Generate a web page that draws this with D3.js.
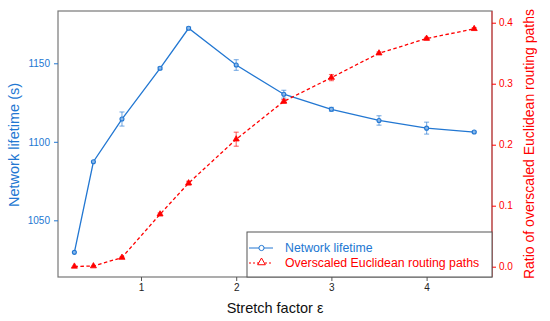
<!DOCTYPE html>
<html>
<head>
<meta charset="utf-8">
<script src="https://cdn.jsdelivr.net/npm/d3@7"></script>
<style>
  body { margin: 0; background: #fff; }
  svg { display: block; font-family: "Liberation Sans", Arial, sans-serif; }
</style>
</head>
<body>
<div id="chart"></div>
<script>
// stretch factor values
const stretch = [0.3, 0.5, 0.8, 1.2, 1.5, 2, 2.5, 3, 3.5, 4, 4.5];
// network lifetime (s) and its error
const lifetime = [1029.6, 1087.3, 1114.5, 1146.8, 1172.3, 1148.9, 1130.3, 1120.7, 1113.6, 1108.7, 1106.2];
const lifetimeErr = [0, 0, 4.5, 0.8, 0.8, 3.4, 2.5, 1.2, 3, 3.8, 0.5];
// ratio of overscaled euclidean routing paths and its error
const ratio = [0.0005, 0.001, 0.015, 0.086, 0.137, 0.209, 0.271, 0.310, 0.350, 0.374, 0.390];
const ratioErr = [0, 0, 0.001, 0.002, 0.003, 0.0115, 0.003, 0.005, 0.002, 0.002, 0.002];

const xTicks = [1, 2, 3, 4];
const leftTicks = [1050, 1100, 1150];
const rightTicks = [0, 0.1, 0.2, 0.3, 0.4];

const blue = "#2277d2";
const red = "#ff0000";

const width = 550, height = 321;
const margin = { top: 11, right: 58, bottom: 44, left: 58 };
const w = width - margin.left - margin.right;
const h = height - margin.top - margin.bottom;

const svg = d3.select("#chart").append("svg")
  .attr("width", width)
  .attr("height", height);

const g = svg.append("g").attr("transform", `translate(${margin.left},${margin.top})`);

const x = d3.scaleLinear().domain([0.128, 4.687]).range([0, w]);
const yL = d3.scaleLinear().domain([1013.9, 1183.3]).range([h, 0]);
const yR = d3.scaleLinear().domain([-0.0169, 0.4192]).range([h, 0]);

// frame
g.append("rect")
  .attr("width", w).attr("height", h)
  .attr("fill", "none").attr("stroke", "#777").attr("stroke-width", 1.2);

// bottom axis
const xAxis = g.append("g")
  .attr("transform", `translate(0,${h})`)
  .call(d3.axisBottom(x).tickValues(xTicks).tickSize(4).tickPadding(3).tickFormat(d3.format("d")));
xAxis.select(".domain").remove();
xAxis.selectAll("line").attr("stroke", "#555");
xAxis.selectAll("text").attr("fill", "#222").style("font-size", "10px");

// left axis
const lAxis = g.append("g")
  .call(d3.axisLeft(yL).tickValues(leftTicks).tickSize(4).tickPadding(4).tickFormat(d3.format("d")));
lAxis.select(".domain").remove();
lAxis.selectAll("line").attr("stroke", blue);
lAxis.selectAll("text").attr("fill", blue).style("font-size", "10px");

// right axis
const rAxis = g.append("g")
  .attr("transform", `translate(${w},0)`)
  .call(d3.axisRight(yR).tickValues(rightTicks).tickSize(4).tickPadding(3).tickFormat(d3.format(".1f")));
rAxis.select(".domain").attr("stroke", red).attr("stroke-opacity", 0.7).attr("d", `M0,0V${h}`);
rAxis.selectAll("line").attr("stroke", red);
rAxis.selectAll("text").attr("fill", red).style("font-size", "10px");

// axis titles
svg.append("text")
  .attr("transform", `translate(19,${margin.top + h / 2 + 1}) rotate(-90)`)
  .attr("text-anchor", "middle")
  .attr("fill", blue)
  .style("font-size", "14.5px")
  .text("Network lifetime (s)");

svg.append("text")
  .attr("transform", `translate(534,${margin.top + h / 2}) rotate(-90)`)
  .attr("text-anchor", "middle")
  .attr("fill", red)
  .style("font-size", "14px")
  .text("Ratio of overscaled Euclidean routing paths");

svg.append("text")
  .attr("x", margin.left + w / 2)
  .attr("y", 313)
  .attr("text-anchor", "middle")
  .attr("fill", "#111")
  .style("font-size", "14.5px")
  .text("Stretch factor ε");

const lifeData = stretch.map((s, i) => ({ x: s, y: lifetime[i], e: lifetimeErr[i] }));
const ratioData = stretch.map((s, i) => ({ x: s, y: ratio[i], e: ratioErr[i] }));

function errorBars(data, yScale, color) {
  const eb = g.append("g").attr("stroke", color).attr("stroke-opacity", 0.55).attr("stroke-width", 1.2);
  data.filter(d => d.e > 0).forEach(d => {
    const cx = x(d.x), y0 = yScale(d.y - d.e), y1 = yScale(d.y + d.e);
    eb.append("line").attr("x1", cx).attr("x2", cx).attr("y1", y0).attr("y2", y1);
    eb.append("line").attr("x1", cx - 2.5).attr("x2", cx + 2.5).attr("y1", y0).attr("y2", y0);
    eb.append("line").attr("x1", cx - 2.5).attr("x2", cx + 2.5).attr("y1", y1).attr("y2", y1);
  });
}

// lifetime series
errorBars(lifeData, yL, blue);
g.append("path")
  .datum(lifeData)
  .attr("fill", "none").attr("stroke", blue).attr("stroke-width", 1.3)
  .attr("d", d3.line().x(d => x(d.x)).y(d => yL(d.y)));
g.append("g").selectAll("circle")
  .data(lifeData)
  .join("circle")
  .attr("cx", d => x(d.x)).attr("cy", d => yL(d.y)).attr("r", 2)
  .attr("fill", "#8ab8ea").attr("stroke", blue).attr("stroke-width", 1.1);

// ratio series
errorBars(ratioData, yR, red);
g.append("path")
  .datum(ratioData)
  .attr("fill", "none").attr("stroke", red).attr("stroke-width", 1.3)
  .attr("stroke-dasharray", "3.5,2.5")
  .attr("d", d3.line().x(d => x(d.x)).y(d => yR(d.y)));
const tri = d3.symbol().type(d3.symbolTriangle).size(16);
g.append("g").selectAll("path")
  .data(ratioData)
  .join("path")
  .attr("transform", d => `translate(${x(d.x)},${yR(d.y)})`)
  .attr("d", tri)
  .attr("fill", red).attr("stroke", red).attr("stroke-width", 0.8);

// legend
const lg = svg.append("g").attr("transform", "translate(247,232)");
lg.append("rect")
  .attr("width", 492 - 247).attr("height", 277 - 232)
  .attr("fill", "#fff").attr("stroke", "#555").attr("stroke-width", 1);
const items = [
  { label: "Network lifetime", color: blue, dash: null, mark: "circle" },
  { label: "Overscaled Euclidean routing paths", color: red, dash: "2,2", mark: "tri" }
];
items.forEach((it, i) => {
  const yy = 16 + i * 15;
  lg.append("line")
    .attr("x1", 2).attr("x2", 26).attr("y1", yy).attr("y2", yy)
    .attr("stroke", it.color).attr("stroke-width", 1)
    .attr("stroke-dasharray", it.dash);
  if (it.mark === "circle") {
    lg.append("circle").attr("cx", 14.5).attr("cy", yy).attr("r", 2.6)
      .attr("fill", "#fff").attr("stroke", it.color).attr("stroke-width", 1);
  } else {
    lg.append("path").attr("transform", `translate(14.5,${yy - 0.5})`)
      .attr("d", d3.symbol().type(d3.symbolTriangle).size(26))
      .attr("fill", "#fff").attr("stroke", it.color).attr("stroke-width", 1);
  }
  lg.append("text")
    .attr("x", 38).attr("y", yy + 4.3)
    .attr("fill", it.color)
    .style("font-size", "12.3px")
    .text(it.label);
});
</script>
</body>
</html>
